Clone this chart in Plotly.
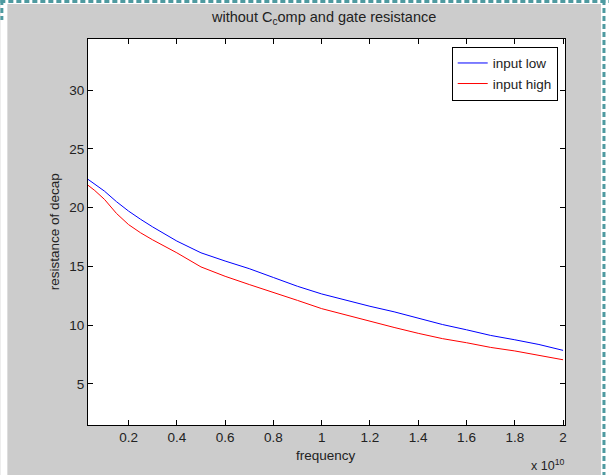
import plotly.graph_objects as go

# frequency in units of 1e10 Hz
freq = [0.032, 0.06, 0.1, 0.15, 0.2, 0.25, 0.3, 0.4, 0.5, 0.6, 0.7, 0.8, 0.9, 1.0,
        1.1, 1.2, 1.3, 1.4, 1.5, 1.6, 1.7, 1.8, 1.9, 2.0]
input_low = [22.4, 22.0, 21.4, 20.5, 19.7, 19.0, 18.35, 17.15, 16.15, 15.45, 14.8, 14.05,
             13.3, 12.65, 12.1, 11.6, 11.13, 10.6, 10.05, 9.6, 9.12, 8.75, 8.35, 7.85]
input_high = [21.9, 21.45, 20.7, 19.5, 18.55, 17.85, 17.25, 16.15, 14.95, 14.15, 13.45, 12.8,
              12.1, 11.4, 10.85, 10.3, 9.8, 9.3, 8.85, 8.5, 8.1, 7.8, 7.45, 7.05]

x_ticks = [0.2, 0.4, 0.6, 0.8, 1.0, 1.2, 1.4, 1.6, 1.8, 2.0]
x_labels = ["0.2", "0.4", "0.6", "0.8", "1", "1.2", "1.4", "1.6", "1.8", "2"]
y_ticks = [5, 10, 15, 20, 25, 30]

W, H = 609, 475
L, R, T, B = 87.7, 565, 39, 425

def px(x):
    return (x - L) / (R - L)

def py(y):
    return 1 - (y - T) / (B - T)

fig = go.Figure()
fig.add_trace(go.Scatter(x=freq, y=input_low, mode="lines", name="input low",
                         line=dict(color="#0000FF", width=1)))
fig.add_trace(go.Scatter(x=freq, y=input_high, mode="lines", name="input high",
                         line=dict(color="#FF0000", width=1)))

font = "Liberation Sans, Arial, sans-serif"
axis_common = dict(showline=True, linecolor="black", linewidth=1, mirror="ticks",
                   ticks="inside", ticklen=5, tickcolor="black", showgrid=False,
                   zeroline=False, tickfont=dict(family=font, size=13.5, color="#222"))

fig.update_layout(
    width=W, height=H,
    margin=dict(l=L, r=W - R, t=T, b=H - B, pad=0),
    paper_bgcolor="#CCCCCC", plot_bgcolor="white",
    showlegend=True,
    legend=dict(x=px(557.7), y=py(46.7), xanchor="right", yanchor="top",
                bgcolor="white", bordercolor="black", borderwidth=1,
                font=dict(family=font, size=13.5, color="#222"),
                tracegroupgap=0, itemwidth=30),
    xaxis=dict(range=[0.032, 2.008], tickvals=x_ticks, ticktext=x_labels, **axis_common),
    yaxis=dict(range=[1.5, 34.34], tickvals=y_ticks, **axis_common),
)

annos = [
    dict(text="without C<sub>c</sub>omp and gate resistance", x=px(323), y=py(18),
         xanchor="center", yanchor="middle", font=dict(size=14.5)),
    dict(text="frequency", x=px(326), y=py(455), xanchor="center", yanchor="middle",
         font=dict(size=13.5)),
    dict(text="resistance of decap", x=px(54), y=py(232), xanchor="center",
         yanchor="middle", textangle=-90, font=dict(size=13.5)),
    dict(text="x 10<sup>10</sup>", x=px(567), y=py(465), xanchor="right",
         yanchor="middle", font=dict(size=12.5)),
]
for a in annos:
    a.update(xref="paper", yref="paper", showarrow=False)
    a["font"].update(family=font, color="#222")
    fig.add_annotation(**a)

teal = "#4E9AA0"
shapes = [
    dict(type="rect", x0=px(0), x1=px(609), y0=py(0), y1=py(4), fillcolor="white",
         line=dict(width=0)),
    dict(type="rect", x0=px(0), x1=px(7), y0=py(0), y1=py(475), fillcolor="white",
         line=dict(width=0)),
    dict(type="rect", x0=px(601), x1=px(609), y0=py(0), y1=py(475), fillcolor="white",
         line=dict(width=0)),
    dict(type="line", x0=px(0), x1=px(609), y0=py(1.5), y1=py(1.5),
         line=dict(color=teal, width=3, dash="5px,3px")),
    dict(type="line", x0=px(604), x1=px(604), y0=py(0), y1=py(475),
         line=dict(color=teal, width=3, dash="5px,3px")),
    dict(type="line", x0=px(1.5), x1=px(1.5), y0=py(0), y1=py(20),
         line=dict(color=teal, width=3, dash="5px,3px")),
]
for s in shapes:
    s.update(xref="paper", yref="paper", layer="below")
    fig.add_shape(**s)

fig.write_html("out.html", config={"displayModeBar": False},
               post_script="document.body.style.margin='0';document.body.style.overflow='hidden';")
